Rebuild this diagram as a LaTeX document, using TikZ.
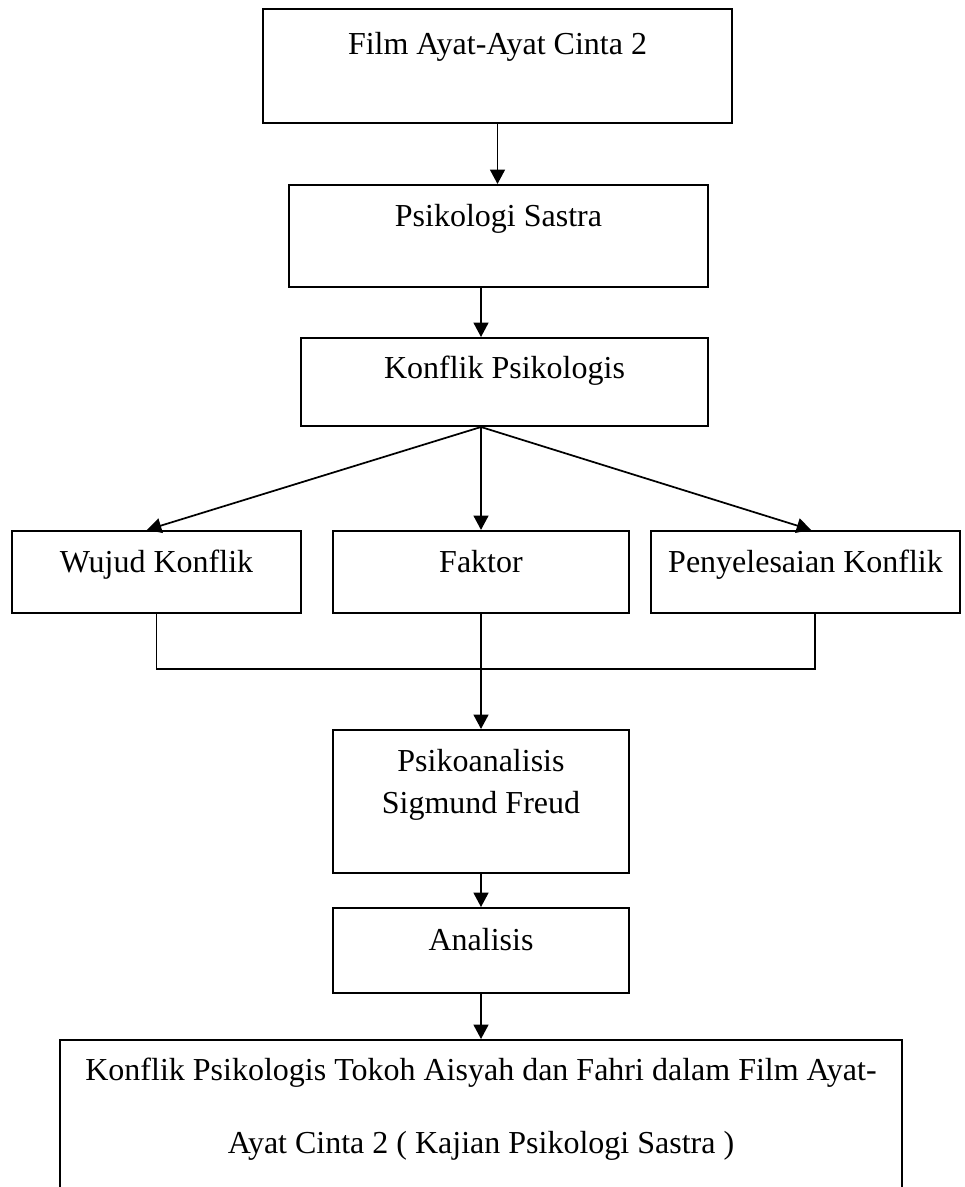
\documentclass[tikz,border=0pt]{standalone}
\usepackage{fontspec}
\setmainfont{Liberation Serif}
\usetikzlibrary{positioning,calc,arrows.meta}

\begin{document}
\begin{tikzpicture}[x=0.375pt,y=-0.375pt]
\tikzstyle{kotak}=[draw,line width=0.75pt,inner sep=0pt,align=center,font=\fontsize{12}{14.4}\selectfont];
\tikzstyle{panah}=[line width=0.65pt,-{Triangle[length=5.4pt,width=5.6pt]}];
\tikzstyle{garis}=[line width=0.5pt];

\useasboundingbox (0,0) rectangle (964,1187);

\begin{scope}
        % kotak utama
        \node[kotak,minimum width=175.9pt] (film) at (497.5,66)
          {\rule{0pt}{17.25pt}Film Ayat-Ayat Cinta 2\rule[-25.5pt]{0pt}{25.5pt}};
        \node[kotak,minimum width=157.1pt] (psi) at (498.5,236)
          {\rule{0pt}{15.75pt}Psikologi Sastra\rule[-22.5pt]{0pt}{22.5pt}};
        \node[kotak,minimum width=152.6pt] (kon) at (504.5,382)
          {\rule{0pt}{15pt}Konflik Psikologis\rule[-18pt]{0pt}{18pt}};

        % tiga cabang
        \node[kotak,minimum width=108.4pt] (wujud) at (156.5,572)
          {\rule{0pt}{15.4pt}Wujud Konflik\rule[-15.4pt]{0pt}{15.4pt}};
        \node[kotak,minimum width=111pt] (fak) at (481,572)
          {\rule{0pt}{15.4pt}Faktor\rule[-15.4pt]{0pt}{15.4pt}};
        \node[kotak,minimum width=115.9pt] (peny) at (805.5,572)
          {\rule{0pt}{15.4pt}Penyelesaian Konflik\rule[-15.4pt]{0pt}{15.4pt}};

        \node[kotak,minimum width=111pt] (psa) at (481,801.5)
          {\rule{0pt}{15.75pt}Psikoanalisis\\[1pt]Sigmund Freud\rule[-22.5pt]{0pt}{22.5pt}};
        \node[kotak,minimum width=111pt] (ana) at (481,950.5)
          {\rule{0pt}{15.75pt}Analisis\rule[-16.1pt]{0pt}{16.1pt}};
        \node[kotak,minimum width=315.75pt] (akhir) at (481,1120)
          {\rule{0pt}{15pt}Konflik Psikologis Tokoh Aisyah dan Fahri dalam Film Ayat-\\[13pt]Ayat Cinta 2 ( Kajian Psikologi Sastra )\rule[-17.6pt]{0pt}{17.6pt}};

        % panah
        \coordinate (puncak) at (kon.south -| fak);
        \draw[panah] (film.south) -- (film.south |- psi.north);
        \draw[panah] (psi.south -| fak) -- (kon.north -| fak);
        \draw[panah] (puncak) -- ([xshift=-3.6pt]wujud.north);
        \draw[panah] (puncak) -- (fak.north);
        \draw[panah] (puncak) -- ([xshift=2.1pt]peny.north);

        \draw[garis] (wujud.south) -- ++(0,55) -| ([xshift=3.6pt]peny.south);
        \draw[panah] (fak.south) -- (psa.north);
        \draw[panah] (psa.south) -- (ana.north);
        \draw[panah] (ana.south) -- (akhir.north);
\end{scope}

\end{tikzpicture}
\end{document}
